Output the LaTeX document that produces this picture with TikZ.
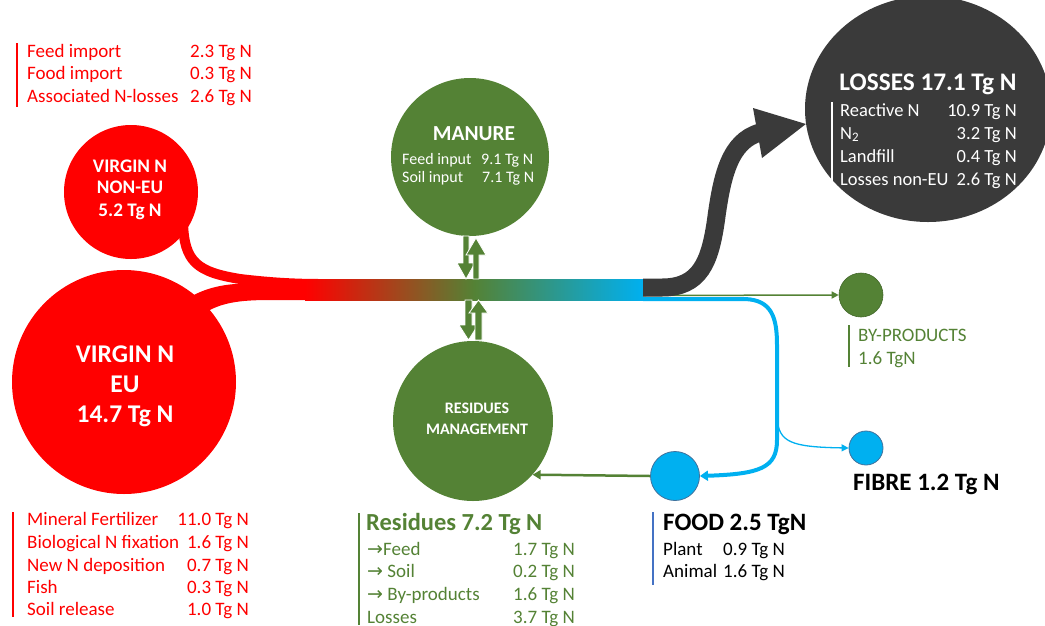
\documentclass[tikz,border=0pt]{standalone}
\usepackage{fontspec}
\setmainfont{Carlito}
\newfontfamily\arr{DejaVu Sans}
\usetikzlibrary{arrows.meta,shapes.geometric}
\definecolor{vred}{HTML}{FF0000}
\definecolor{grn}{HTML}{548235}
\definecolor{cyn}{HTML}{00B0F0}
\definecolor{drk}{HTML}{3A3A3A}
\definecolor{bbar}{HTML}{4472C4}
\definecolor{cedge}{HTML}{41719C}
\begin{document}
\begin{tikzpicture}[x=1pt,y=-1pt,
  lst/.style={anchor=base west,inner sep=0pt,font=\fontsize{19}{22}\selectfont},
  lstr/.style={anchor=base east,inner sep=0pt,font=\fontsize{19}{22}\selectfont},
  llst/.style={anchor=base west,inner sep=0pt,text=white,font=\fontsize{18.5}{22}\selectfont},
  llstr/.style={anchor=base east,inner sep=0pt,text=white,font=\fontsize{18.5}{22}\selectfont},
  mlst/.style={anchor=base west,inner sep=0pt,text=white,font=\fontsize{16}{18}\selectfont},
  ctr/.style={anchor=base,inner sep=0pt,text=white},
  bigttl/.style={anchor=base west,inner sep=0pt,font=\bfseries\fontsize{25}{30}\selectfont},
  disc/.style={circle,inner sep=0pt,minimum size=#1},
  barline/.style={line width=2pt},
  thinarrow/.style={line width=1.5pt,-{Triangle[width=7pt,length=7pt]}},
]
\useasboundingbox (0,0) rectangle (1045,625);
\clip (0,0) rectangle (1045,625);

% ---------- circles ----------
\node[disc=134pt,fill=vred] (vne) at (131,192) {};
\node[disc=224pt,fill=vred] (veu) at (124,382) {};
\node[disc=158pt,fill=grn] (man) at (470,157) {};
\node[disc=160pt,fill=grn] (resid) at (473,421) {};
\node[ellipse,inner sep=0pt,minimum width=246pt,minimum height=226pt,fill=drk] (loss) at (928,109) {};
\node[disc=44pt,fill=grn,draw=grn!80!black,line width=0.6pt] (byp) at (861,295) {};
\node[disc=49pt,fill=cyn,draw=cedge,line width=0.8pt] (food) at (675,476) {};
\node[disc=34pt,fill=cyn,draw=cedge,line width=0.8pt] (fib) at (866,448) {};

% ---------- red branches ----------
\fill[vred] (190,297) .. controls (210,286) and (228,283) .. (262,283) -- (320,283)
  -- (320,300) -- (270,300) .. controls (238,300) and (222,303) .. (206,312) -- cycle;
\draw[vred,line width=10pt] (183,222) .. controls (184,262) and (197,272) .. (240,279)
  .. controls (265,282) and (290,284) .. (320,284);

% ---------- main band ----------
\coordinate (bandL) at (305,279);
\coordinate (bandR) at (643,300);
\shade[left color=vred,right color=cyn,middle color=grn] (bandL) rectangle (bandR);

% ---------- outflows ----------
\coordinate (cstart) at (643,299);
\coordinate (split) at (777,418);
\draw[cyn,line width=4pt,-{Triangle[width=10pt,length=8pt]}] (cstart) -- (745,299)
  .. controls (772,300) and (777,318) .. (777,345) -- (777,440)
  .. controls (777,468) and (760,474) .. (food.east);
\draw[cyn,thinarrow,line width=1.3pt] (split) .. controls (779,442) and (790,447) .. (fib.west);
\coordinate (gstart) at (643,295.5);
\draw[grn,thinarrow] (gstart) -- (byp.west);

\coordinate (bandend) at (643,287.5);
\coordinate (lossbase) at (760,132.5);
\draw[drk,line width=18pt] (bandend) -- (662,287.5) .. controls (700,287.5) and (710,262) .. (716,220)
  .. controls (722,175) and (730,141) .. (lossbase);
\fill[drk] (753,108) -- (loss.187) -- (762,158) -- cycle;

\draw[grn,line width=2.5pt,-{Triangle[width=9pt,length=8pt]}] (food.west) -- (resid.-42);

% ---------- manure / residues exchange arrows ----------
\filldraw[fill=grn,draw=white,line width=0.8pt] (463,236) -- (469,236) -- (469,263) -- (475,263) -- (466,279) -- (457,263) -- (463,263) -- cycle;
\filldraw[fill=grn,draw=white,line width=0.8pt] (473,279) -- (479,279) -- (479,255) -- (486,255) -- (476,238) -- (466,255) -- (473,255) -- cycle;
\filldraw[fill=grn,draw=white,line width=0.8pt] (465,300) -- (472,300) -- (472,325) -- (478,325) -- (468.5,340) -- (459,325) -- (465,325) -- cycle;
\filldraw[fill=grn,draw=white,line width=0.8pt] (475,340) -- (482,340) -- (482,313) -- (488,313) -- (478.5,300) -- (469,313) -- (475,313) -- cycle;

% ---------- texts in circles ----------
\begin{scope}[every node/.append style={font=\bfseries\fontsize{19.2}{22}\selectfont}]
\node[ctr] (vne1) at (130,172) {VIRGIN N};
\node[ctr] (vne2) at (130,193) {NON-EU};
\node[ctr] (vne3) at (130,216) {5.2 Tg N};
\end{scope}
\begin{scope}[every node/.append style={font=\bfseries\fontsize{25.5}{30}\selectfont}]
\node[ctr] (veu1) at (125,362) {VIRGIN N};
\node[ctr] (veu2) at (125,392) {EU};
\node[ctr] (veu3) at (125,422) {14.7 Tg N};
\end{scope}
\node[ctr,font=\bfseries\fontsize{21.4}{24}\selectfont] (man1) at (474,140) {MANURE};
\node[mlst] (man2) at (402,164) {Feed input};
\node[mlst] (man2v) at (481,164) {9.1 Tg N};
\node[mlst] (man3) at (402,182) {Soil input};
\node[mlst] (man3v) at (482,182) {7.1 Tg N};
\begin{scope}[every node/.append style={font=\bfseries\fontsize{16}{20}\selectfont}]
\node[ctr] (res1) at (477,413) {RESIDUES};
\node[ctr] (res2) at (477,434) {MANAGEMENT};
\end{scope}
\node[ctr,font=\bfseries\fontsize{25.3}{30}\selectfont] (loss0) at (928,90) {LOSSES 17.1 Tg N};
\node[llst] (l1) at (840,116) {Reactive N};
\node[llstr] (l1v) at (1017,116) {10.9 Tg N};
\node[llst] (l2) at (840,139) {N\textsubscript{2}};
\node[llstr] (l2v) at (1017,139) {3.2 Tg N};
\node[llst] (l3) at (840,162) {Landfill};
\node[llstr] (l3v) at (1017,162) {0.4 Tg N};
\node[llst] (l4) at (840,185) {Losses non-EU};
\node[llstr] (l4v) at (1017,185) {2.6 Tg N};
\draw[white,barline] (832,102) -- (832,186);

% ---------- red lists ----------
\begin{scope}[every node/.append style={text=vred}]
\node[lst] (t1) at (27,57) {Feed import};
\node[lst] (t1v) at (190,57) {2.3 Tg N};
\node[lst] (t2) at (27,79) {Food import};
\node[lst] (t2v) at (190,79) {0.3 Tg N};
\node[lst] (t3) at (27,102) {Associated N-losses};
\node[lst] (t3v) at (190,102) {2.6 Tg N};
\node[lst] (b1) at (27,525) {Mineral Fertilizer};
\node[lstr] (b1v) at (249,525) {11.0 Tg N};
\node[lst] (b2) at (27,548) {Biological N fixation};
\node[lstr] (b2v) at (249,548) {1.6 Tg N};
\node[lst] (b3) at (27,571) {New N deposition};
\node[lstr] (b3v) at (249,571) {0.7 Tg N};
\node[lst] (b4) at (27,593) {Fish};
\node[lstr] (b4v) at (249,593) {0.3 Tg N};
\node[lst] (b5) at (27,615) {Soil release};
\node[lstr] (b5v) at (249,615) {1.0 Tg N};
\end{scope}
\draw[vred,barline] (17,43) -- (17,107);
\draw[vred,barline] (13,512) -- (13,617);

% ---------- residues list ----------
\begin{scope}[every node/.append style={text=grn}]
\node[bigttl,font=\bfseries\fontsize{24.5}{28}\selectfont] (r0) at (366,530) {Residues 7.2 Tg N};
\node[lst] (r1) at (367,555) {{\arr →}Feed};
\node[lst] (r1v) at (513,555) {1.7 Tg N};
\node[lst] (r2) at (367,577) {{\arr →} Soil};
\node[lst] (r2v) at (513,577) {0.2 Tg N};
\node[lst] (r3) at (367,600) {{\arr →} By-products};
\node[lst] (r3v) at (513,600) {1.6 Tg N};
\node[lst] (r4) at (367,623) {Losses};
\node[lst] (r4v) at (513,623) {3.7 Tg N};
\node[lst] (bp1) at (858,341) {BY-PRODUCTS};
\node[lst] (bp2) at (858,364) {1.6 TgN};
\end{scope}
\draw[grn,line width=2.5pt] (359,513) -- (359,625);
\draw[grn,barline] (849,325) -- (849,367);

% ---------- food / fibre ----------
\node[bigttl] (f0) at (663,530) {FOOD 2.5 TgN};
\node[lst] (f1) at (663,555) {Plant};
\node[lst] (f1v) at (723,555) {0.9 Tg N};
\node[lst] (f2) at (663,577) {Animal};
\node[lst] (f2v) at (723,577) {1.6 Tg N};
\draw[bbar,barline] (653,512) -- (653,585);
\node[bigttl] (fb) at (853,490) {FIBRE 1.2 Tg N};
\end{tikzpicture}
\end{document}
